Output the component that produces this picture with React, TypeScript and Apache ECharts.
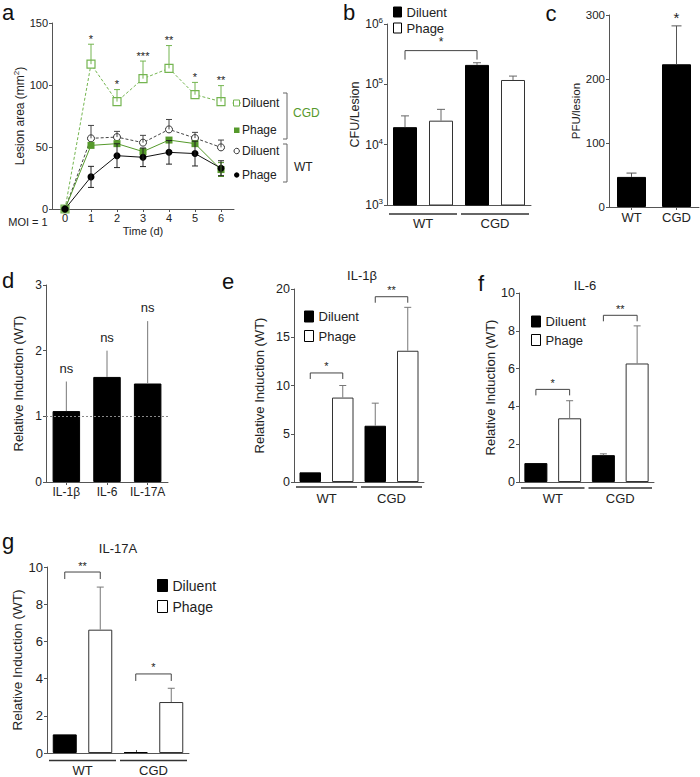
import React, { useEffect, useRef } from 'react';
import * as echarts from 'echarts';

const FONT = '"Liberation Sans", Arial, Helvetica, sans-serif';
const TXT = '#222';
const AX = '#555';

// ---------- Panel a : lesion area over time ----------
const days = ['0', '1', '2', '3', '4', '5', '6'];
const cgdDiluent = [0, 116.8, 86.6, 105.1, 113.4, 92.2, 86.6];
const cgdDiluentUpper = [null, 132.9, 96.3, 119.3, 131.8, 102.1, 99.5];
const cgdPhage = [0, 51.3, 52.7, 46.3, 55.6, 52.7, 31.8];
const cgdPhageSem = [null, null, null, null, null, null, 5.6];
const wtDiluent = [0, 57.0, 58.0, 53.5, 64.2, 57.2, 49.7];
const wtDiluentUpper = [null, 67.4, 62.6, 59.4, 72.2, 61.8, 55.6];
const wtPhage = [0, 25.9, 43.0, 41.7, 45.7, 44.7, 32.9];
const wtPhageSem = [null, 8.5, 9.6, 7.5, 9.5, 10.0, 6.0];
const aStars = ['', '*', '*', '***', '**', '*', '**'];

// ---------- shared bar categories ----------
const barCats = ['WT Diluent', 'WT Phage', 'CGD Diluent', 'CGD Phage'];
const groupNames = ['WT', 'CGD'];

// ---------- Panel b : CFU / lesion ----------
const bValues = [19500, 25000, 210000, 118000];
const bErrTop = [30000, 38500, 228000, 137000];
const bBrackets = [[0, 2, 362000]];
const bBracketLabels = ['*'];

// ---------- Panel c : PFU / lesion ----------
const cCats = ['WT', 'CGD'];
const cValues = [47, 223];
const cErrTop = [53, 283];
const cStars = ['', '*'];

// ---------- Panel d : cytokines WT ----------
const dCats = ['IL-1β', 'IL-6', 'IL-17A'];
const dValues = [1.08, 1.6, 1.5];
const dErrTop = [1.53, 2.0, 2.45];
const dLabels = ['ns', 'ns', 'ns'];

// ---------- Panel e : IL-1β ----------
const eValues = [1.0, 8.75, 5.83, 13.6];
const eErrTop = [null, 10.0, 8.17, 18.1];
const eBrackets = [[0, 1, 11.3], [2, 3, 19.2]];
const eBracketLabels = ['*', '**'];

// ---------- Panel f : IL-6 ----------
const fValues = [1.0, 3.37, 1.42, 6.27];
const fErrTop = [null, 4.3, 1.49, 8.26];
const fBrackets = [[0, 1, 4.9], [2, 3, 8.82]];
const fBracketLabels = ['*', '**'];

// ---------- Panel g : IL-17A ----------
const gValues = [1.0, 6.63, 0.05, 2.74];
const gErrTop = [null, 8.92, null, 3.48];
const gBrackets = [[0, 1, 9.73], [2, 3, 4.25]];
const gBracketLabels = ['**', '*'];

const GREEN = '#55992b';
const LGREEN = '#74b550';

function font(size: number) {
  return `${size}px ${FONT}`;
}

function upperErrData(values: number[], upper: (number | null)[]) {
  const out: number[][] = [];
  upper.forEach((u, i) => {
    if (u !== null && u !== undefined) out.push([i, values[i], u]);
  });
  return out;
}
function symErrData(values: number[], sem: (number | null)[]) {
  const out: number[][] = [];
  sem.forEach((s, i) => {
    if (s !== null && s !== undefined) out.push([i, values[i] - s, values[i] + s]);
  });
  return out;
}

function errorSeries(
  axis: number,
  data: number[][],
  color: string,
  capHalf: number,
  opts: { lowCap?: boolean; labels?: string[]; labelDy?: number; labelSize?: number } = {}
) {
  return {
    type: 'custom',
    xAxisIndex: axis,
    yAxisIndex: axis,
    z: 6,
    silent: true,
    clip: false,
    encode: { x: 0, y: [1, 2] },
    itemStyle: { color: TXT },
    data,
    renderItem: (params: any, api: any) => {
      const x = api.value(0);
      const lo = api.value(1);
      const hi = api.value(2);
      const a = api.coord([x, lo]);
      const b = api.coord([x, hi]);
      const st = { stroke: color, lineWidth: 1 };
      const children: any[] = [
        { type: 'line', shape: { x1: a[0], y1: a[1], x2: b[0], y2: b[1] }, style: st },
        { type: 'line', shape: { x1: b[0] - capHalf, y1: b[1], x2: b[0] + capHalf, y2: b[1] }, style: st },
      ];
      if (opts.lowCap) {
        children.push({ type: 'line', shape: { x1: a[0] - capHalf, y1: a[1], x2: a[0] + capHalf, y2: a[1] }, style: st });
      }
      const lab = opts.labels ? opts.labels[x] : '';
      if (lab) {
        children.push({
          type: 'text',
          x: b[0],
          y: b[1] + (opts.labelDy ?? -2),
          style: { text: lab, fill: TXT, font: font(opts.labelSize ?? 11), align: 'center', verticalAlign: 'bottom' },
        });
      }
      return { type: 'group', children };
    },
  };
}

function bracketSeries(axis: number, data: number[][], labels: string[], leg: number, size: number, textDy: number) {
  return {
    type: 'custom',
    xAxisIndex: axis,
    yAxisIndex: axis,
    z: 7,
    silent: true,
    clip: false,
    encode: { x: [0, 1], y: 2 },
    itemStyle: { color: TXT },
    data,
    renderItem: (params: any, api: any) => {
      const y = api.value(2);
      const p1 = api.coord([api.value(0), y]);
      const p2 = api.coord([api.value(1), y]);
      return {
        type: 'group',
        children: [
          {
            type: 'polyline',
            shape: { points: [[p1[0], p1[1] + leg], [p1[0], p1[1]], [p2[0], p1[1]], [p2[0], p1[1] + leg]] },
            style: { stroke: '#444', lineWidth: 1, fill: null },
          },
          {
            type: 'text',
            x: (p1[0] + p2[0]) / 2,
            y: p1[1] + textDy,
            style: { text: labels[params.dataIndex], fill: TXT, font: font(size), align: 'center', verticalAlign: 'bottom' },
          },
        ],
      };
    },
  };
}

function groupSeries(axis: number, yRef: number, lineOff: number, labelOff: number, size: number) {
  return {
    type: 'custom',
    xAxisIndex: axis,
    yAxisIndex: axis,
    silent: true,
    clip: false,
    encode: { x: [0, 1] },
    itemStyle: { color: TXT },
    data: [[0, 1], [2, 3]],
    renderItem: (params: any, api: any) => {
      const cs = params.coordSys;
      const bottom = cs.y + cs.height;
      const band = cs.width / barCats.length;
      const x0 = api.coord([api.value(0), yRef])[0] - band / 2 + 2;
      const x1 = api.coord([api.value(1), yRef])[0] + band / 2 - 2;
      return {
        type: 'group',
        children: [
          { type: 'line', shape: { x1: x0, y1: bottom + lineOff, x2: x1, y2: bottom + lineOff }, style: { stroke: '#333', lineWidth: 1.5 } },
          {
            type: 'text',
            x: (x0 + x1) / 2,
            y: bottom + lineOff + labelOff,
            style: { text: groupNames[params.dataIndex], fill: TXT, font: font(size), align: 'center', verticalAlign: 'middle' },
          },
        ],
      };
    },
  };
}

function barPair(axis: number, values: number[], width: number, extra: any = {}) {
  return [
    {
      type: 'bar',
      name: 'Diluent',
      xAxisIndex: axis,
      yAxisIndex: axis,
      barWidth: width,
      barGap: '-100%',
      data: values.map((v, i) => (i % 2 === 0 ? v : '-')),
      itemStyle: { color: '#000', borderColor: '#000', borderWidth: 1 },
      ...extra,
    },
    {
      type: 'bar',
      name: 'Phage',
      xAxisIndex: axis,
      yAxisIndex: axis,
      barWidth: width,
      barGap: '-100%',
      data: values.map((v, i) => (i % 2 === 1 ? v : '-')),
      itemStyle: { color: '#fff', borderColor: '#333', borderWidth: 1 },
      ...extra,
    },
  ];
}

const axisLine = { show: true, lineStyle: { color: AX, width: 1 } };

function catAxis(grid: number, data: string[], showLabels: boolean, size = 12, margin = 4, inside = false) {
  return {
    type: 'category',
    gridIndex: grid,
    data,
    boundaryGap: true,
    axisLine,
    axisTick: { show: true, alignWithLabel: true, length: 3, inside, interval: 0, lineStyle: { color: AX } },
    axisLabel: { show: showLabels, interval: 0, color: TXT, fontSize: size, fontFamily: FONT, margin },
    splitLine: { show: false },
  };
}

function valAxis(grid: number, max: number, interval: number, name: string, nameGap: number, size: number, nameSize: number) {
  return {
    type: 'value',
    gridIndex: grid,
    min: 0,
    max,
    interval,
    axisLine,
    axisTick: { show: true, length: 3, lineStyle: { color: AX } },
    axisLabel: { color: TXT, fontSize: size, fontFamily: FONT, margin: 4 },
    splitLine: { show: false },
    name,
    nameLocation: 'middle',
    nameGap,
    nameTextStyle: { color: TXT, fontSize: nameSize, fontFamily: FONT },
  };
}

const legendItems = [
  { name: 'Diluent', itemStyle: { color: '#000', borderColor: '#000', borderWidth: 1 } },
  { name: 'Phage', itemStyle: { color: '#fff', borderColor: '#000', borderWidth: 1 } },
];
function legendAt(left: number, top: number, w: number, h: number, gap: number, size: number) {
  return {
    left,
    top,
    orient: 'vertical',
    padding: 0,
    itemWidth: w,
    itemHeight: h,
    itemGap: gap,
    icon: 'rect',
    selectedMode: false,
    data: legendItems,
    textStyle: { color: TXT, fontSize: size, fontFamily: FONT, lineHeight: 14 },
  };
}

function buildOption() {
  const grids = [
    { left: 52, top: 23, width: 182, height: 186 }, // a
    { left: 387, top: 24, width: 144, height: 181 }, // b
    { left: 609, top: 15, width: 90, height: 192 }, // c
    { left: 46, top: 285, width: 122, height: 197 }, // d
    { left: 294, top: 289, width: 130, height: 193 }, // e
    { left: 519, top: 293, width: 135, height: 189 }, // f
    { left: 47, top: 567, width: 142, height: 186 }, // g
  ];

  const xAxis = [
    { ...catAxis(0, days, true, 11, 3), name: 'Time (d)', nameLocation: 'middle', nameGap: 16, nameTextStyle: { color: TXT, fontSize: 11, fontFamily: FONT } },
    catAxis(1, barCats, false, 12, 4, true),
    catAxis(2, cCats, true, 13, 4),
    catAxis(3, dCats, true, 12, 4),
    catAxis(4, barCats, false, 12, 4, true),
    catAxis(5, barCats, false, 12, 4, true),
    catAxis(6, barCats, false, 12, 4, true),
  ];

  const yAxis: any[] = [
    {
      ...valAxis(0, 150, 50, 'Lesion area (mm{sup|2})', 18, 11, 12),
      nameTextStyle: { color: TXT, fontSize: 12, fontFamily: FONT, rich: { sup: { fontSize: 8, fontFamily: FONT, color: TXT, padding: [0, 0, 7, 0] } } },
    },
    {
      type: 'log',
      gridIndex: 1,
      logBase: 10,
      min: 1000,
      max: 1000000,
      axisLine,
      axisTick: { show: true, length: 3, lineStyle: { color: AX } },
      splitLine: { show: false },
      axisLabel: {
        margin: 4,
        formatter: (v: number) => `{base|10}{sup|${Math.round(Math.log10(v))}}`,
        rich: {
          base: { fontSize: 12, fontFamily: FONT, color: TXT },
          sup: { fontSize: 8, fontFamily: FONT, color: TXT, padding: [0, 0, 7, 0] },
        },
      },
      name: 'CFU/Lesion',
      nameLocation: 'middle',
      nameGap: 25,
      nameTextStyle: { color: TXT, fontSize: 12.5, fontFamily: FONT },
    },
    valAxis(2, 300, 100, 'PFU/lesion', 18, 11.5, 11.5),
    valAxis(3, 3, 1, 'Relative Induction (WT)', 21, 12, 13),
    valAxis(4, 20, 5, 'Relative Induction (WT)', 28, 12.5, 13),
    valAxis(5, 10, 2, 'Relative Induction (WT)', 11, 12.5, 13),
    valAxis(6, 10, 2, 'Relative Induction (WT)', 17, 13, 13.5),
  ];

  const series: any[] = [
    // ---- panel a lines ----
    {
      type: 'line', name: 'CGD Diluent', xAxisIndex: 0, yAxisIndex: 0, data: cgdDiluent,
      symbol: 'rect', symbolSize: 8, z: 3,
      lineStyle: { color: LGREEN, width: 1, type: [3, 2] },
      itemStyle: { color: '#fff', borderColor: LGREEN, borderWidth: 1.2 },
    },
    {
      type: 'line', name: 'WT Diluent', xAxisIndex: 0, yAxisIndex: 0, data: wtDiluent,
      symbol: 'circle', symbolSize: 7, z: 3,
      lineStyle: { color: '#444', width: 1, type: [3, 2] },
      itemStyle: { color: '#fff', borderColor: '#333', borderWidth: 1 },
    },
    {
      type: 'line', name: 'CGD Phage', xAxisIndex: 0, yAxisIndex: 0, data: cgdPhage,
      symbol: 'rect', symbolSize: 7, z: 4,
      lineStyle: { color: GREEN, width: 1 },
      itemStyle: { color: GREEN },
    },
    {
      type: 'line', name: 'WT Phage', xAxisIndex: 0, yAxisIndex: 0, data: wtPhage,
      symbol: 'circle', symbolSize: 7, z: 4,
      lineStyle: { color: '#111', width: 1 },
      itemStyle: { color: '#000' },
    },
    errorSeries(0, upperErrData(cgdDiluent, cgdDiluentUpper), LGREEN, 3, { labels: aStars, labelDy: 0, labelSize: 11 }),
    errorSeries(0, upperErrData(wtDiluent, wtDiluentUpper), '#444', 3),
    errorSeries(0, symErrData(cgdPhage, cgdPhageSem), GREEN, 3, { lowCap: true }),
    errorSeries(0, symErrData(wtPhage, wtPhageSem), '#222', 3, { lowCap: true }),

    // ---- panel b ----
    ...barPair(1, bValues, 24, { clip: true }),
    errorSeries(1, upperErrData(bValues, bErrTop), '#666', 4),
    bracketSeries(1, bBrackets, bBracketLabels, 9, 12, -3),
    groupSeries(1, 1000, 9, 9, 13),

    // ---- panel c ----
    {
      type: 'bar', name: 'PFU', xAxisIndex: 2, yAxisIndex: 2, data: cValues, barWidth: 29,
      itemStyle: { color: '#000', borderColor: '#000', borderWidth: 1 },
    },
    errorSeries(2, upperErrData(cValues, cErrTop), '#555', 5, { labels: cStars, labelDy: -1, labelSize: 15 }),

    // ---- panel d ----
    {
      type: 'bar', name: 'WT ratio', xAxisIndex: 3, yAxisIndex: 3, data: dValues, barWidth: 27.5,
      itemStyle: { color: '#000', borderColor: '#000', borderWidth: 1 },
      markLine: {
        silent: true, symbol: 'none', label: { show: false },
        lineStyle: { color: '#888', type: [2, 2], width: 1 },
        data: [{ yAxis: 1 }],
      },
    },
    errorSeries(3, upperErrData(dValues, dErrTop), '#777', 0, { labels: dLabels, labelDy: -7, labelSize: 13 }),

    // ---- panel e ----
    ...barPair(4, eValues, 21.5),
    errorSeries(4, upperErrData(eValues, eErrTop), '#777', 3.5),
    bracketSeries(4, eBrackets, eBracketLabels, 6, 11, -1),
    groupSeries(4, 0, 5, 11, 13),

    // ---- panel f ----
    ...barPair(5, fValues, 23),
    errorSeries(5, upperErrData(fValues, fErrTop), '#777', 3.5),
    bracketSeries(5, fBrackets, fBracketLabels, 6, 11, -1),
    groupSeries(5, 0, 6, 10, 13),

    // ---- panel g ----
    ...barPair(6, gValues, 24),
    errorSeries(6, upperErrData(gValues, gErrTop), '#777', 3.5),
    bracketSeries(6, gBrackets, gBracketLabels, 7, 11, -1),
    groupSeries(6, 0, 7.5, 9.5, 13),
  ];

  const letter = (t: string, x: number, y: number) => ({
    type: 'text', x, y,
    style: { text: t, font: font(22), fill: '#111', align: 'center', verticalAlign: 'middle' },
  });
  const txt = (t: string, x: number, y: number, size: number, fill = TXT, align = 'center') => ({
    type: 'text', x, y,
    style: { text: t, font: font(size), fill, align, verticalAlign: 'middle' },
  });

  const graphic: any[] = [
    letter('a', 8, 12),
    letter('b', 349, 12),
    letter('c', 551, 13),
    letter('d', 8, 280),
    letter('e', 228, 281),
    letter('f', 481, 283),
    letter('g', 8, 541),
    txt('IL-1β', 362, 275, 13),
    txt('IL-6', 585, 285, 13),
    txt('IL-17A', 118, 548, 13),
    txt('MOI = 1', 28, 222, 11),
    // panel a legend
    { type: 'line', shape: { x1: 232.5, y1: 103, x2: 241, y2: 103 }, style: { stroke: LGREEN, lineWidth: 1 } },
    { type: 'rect', shape: { x: 233.5, y: 100, width: 6, height: 6 }, style: { fill: '#fff', stroke: LGREEN, lineWidth: 1 } },
    { type: 'rect', shape: { x: 234, y: 127.5, width: 5.5, height: 5.5 }, style: { fill: GREEN } },
    { type: 'circle', shape: { cx: 236.7, cy: 151, r: 2.7 }, style: { fill: '#fff', stroke: '#333', lineWidth: 1 } },
    { type: 'circle', shape: { cx: 236.7, cy: 175, r: 2.7 }, style: { fill: '#000' } },
    txt('Diluent', 242, 103, 12, TXT, 'left'),
    txt('Phage', 242, 130, 12, TXT, 'left'),
    txt('Diluent', 242, 151, 12, TXT, 'left'),
    txt('Phage', 242, 175, 12, TXT, 'left'),
    { type: 'polyline', shape: { points: [[283, 93], [287, 93], [287, 139], [283, 139]] }, style: { stroke: '#666', lineWidth: 1, fill: null } },
    { type: 'polyline', shape: { points: [[283, 144], [287, 144], [287, 182], [283, 182]] }, style: { stroke: '#666', lineWidth: 1, fill: null } },
    txt('CGD', 293, 113, 12, GREEN, 'left'),
    txt('WT', 294, 167, 12, TXT, 'left'),
  ];

  return {
    animation: false,
    backgroundColor: '#fff',
    textStyle: { fontFamily: FONT },
    grid: grids,
    xAxis,
    yAxis,
    legend: [
      legendAt(393, 5, 8, 10, 2, 13),
      legendAt(304, 309.5, 9, 11, 5.5, 13),
      legendAt(531, 314.5, 9, 11, 4.5, 13),
      legendAt(157, 578.5, 10, 12, 7, 14),
    ],
    series,
    graphic,
  };
}

export default function App() {
  const ref = useRef<HTMLDivElement>(null);
  useEffect(() => {
    if (!ref.current) return;
    const chart = echarts.init(ref.current, undefined, { renderer: 'svg' });
    chart.setOption(buildOption() as any);
    return () => chart.dispose();
  }, []);
  return (
    <div
      ref={ref}
      style={{ position: 'fixed', left: 0, top: 0, width: 700, height: 777, background: '#fff' }}
    />
  );
}
